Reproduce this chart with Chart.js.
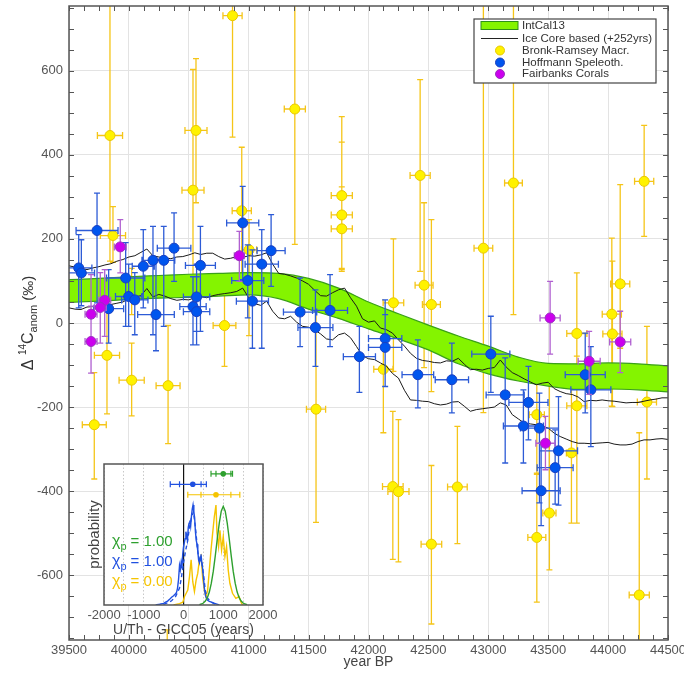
<!DOCTYPE html>
<html>
<head>
<meta charset="utf-8">
<script src="https://cdn.jsdelivr.net/npm/chart.js@4.4.1/dist/chart.umd.min.js"></script>
<style>
  html, body { margin: 0; padding: 0; background: #fff; }
  #wrap { position: relative; width: 684px; height: 675px; }
  #mainChart { position: absolute; left: 0; top: 0; }
  #insetChart { position: absolute; left: 75px; top: 455px; }
</style>
</head>
<body>
<div id="wrap">
  <canvas id="mainChart" width="684" height="675"></canvas>
  <canvas id="insetChart" width="210" height="190"></canvas>
</div>
<script>
const FONT = "'Liberation Sans', Arial, sans-serif";

// IntCal13 band edges, every 250 years
const bandYears = [39500, 39750, 40000, 40250, 40500, 40750, 41000, 41250, 41500, 41750, 42000,
                   42250, 42500, 42750, 43000, 43250, 43500, 43750, 44000, 44250, 44500];
const bandUpper = [103, 106, 110, 113, 116, 118, 120, 118, 106, 83, 50, 22, -5, -31, -55, -81, -96, -97, -95, -97, -102];
const bandLower = [49, 52, 56, 59, 61, 64, 67, 58, 33, 11, -14, -38, -64, -97, -121, -138, -150, -158, -157, -159, -164];

// ice core based curves (+252 yrs), one value every 50 years from 39500
const iceStart = 39500;
const iceStep = 50;
const iceUpper = [
  136, 133, 130, 127, 131, 134, 138, 141, 147, 151,
  157, 160, 168, 176, 160, 157, 155, 153, 157, 158,
  162, 167, 163, 166, 166, 158, 152, 154, 158, 156,
  160, 159, 162, 167, 140, 118, 116, 112, 107, 100,
  92, 78, 65, 64, 72, 79, 83, 60, 40, 10,
  2, 5, -12, -16, -24, -40, -55, -72, -84, -89,
  -91, -94, -95, -90, -91, -84, -98, -111, -110, -112,
  -108, -106, -88, -105, -118, -125, -133, -140, -147, -143,
  -141, -156, -163, -168, -170, -176, -187, -184, -185, -183,
  -185, -186, -188, -190, -189, -189, -186, -183, -181, -178,
  -178];
const iceLower = [
  36, 33, 32, 38, 39, 41, 42, 44, 47, 50,
  58, 62, 65, 82, 62, 68, 64, 58, 54, 56,
  55, 60, 63, 60, 65, 68, 70, 72, 75, 83,
  60, 46, 42, 52, 28, 12, 10, 16, 2, -8,
  -10, -16, -26, -38, -40, -28, -24, -35, -56, -78,
  -85, -87, -95, -103, -120, -131, -160, -183, -184, -186,
  -187, -192, -195, -193, -188, -187, -198, -210, -206, -204,
  -202, -200, -190, -195, -218, -228, -238, -240, -242, -245,
  -250, -262, -270, -276, -282, -286, -286, -287, -286, -285,
  -284, -288, -290, -290, -288, -282, -278, -278, -276, -275,
  -277];

// Bronk-Ramsey macrofossils
const brYear = [39842, 39867, 39817, 39711, 40023, 40327, 40798, 40865, 40560, 40535,
                40942, 41003, 41385, 41777, 41777, 41777, 41562, 42208, 42124, 42431,
                42464, 42525, 42203, 42250, 42525, 42742, 42959, 43210, 43405, 43405,
                43510, 43694, 43739, 43739, 44101, 44031, 44036, 44324, 44301, 44260,
                40023, 40320];
const brVal = [446, 208, -77, -242, -136, -149, -6, 731, 458, 316,
               267, 174, 509, 303, 257, 224, -205, 48, -110, 351,
               90, 44, -389, -401, -526, -390, 178, 333, -218, -510,
               -452, -309, -25, -197, 93, 21, -26, -188, 337, -647,
               75, -900];
const brXErr = [105, 105, 105, 100, 105, 100, 95, 80, 92, 92,
                80, 63, 88, 88, 88, 88, 80, 86, 80, 84,
                75, 75, 86, 88, 86, 82, 78, 74, 63, 75,
                55, 42, 84, 84, 80, 80, 80, 80, 80, 84,
                80, 80];
const brLow = [147, 144, -216, -371, -221, -287, -103, 442, 286, 40,
               120, -30, 187, 130, 127, 123, -474, -115, -261, 123,
               -106, -163, -562, -568, -716, -525, -213, 20, -357, -664,
               -587, -476, -151, -476, -60, -198, -199, -371, 206, -800,
               20, -1000];
const brHigh = [1100, 277, 32, -118, -48, -6, 91, 1100, 629, 603,
                418, 246, 1100, 491, 430, 324, 84, 200, 10, 579,
                286, 246, -210, -230, -339, -246, 1100, 1100, -107, -360,
                -103, -99, 119, -79, 329, 202, 147, -8, 470, -261,
                130, -730];

// Hoffmann speleothems
const hoYear = [39734, 39581, 39603, 39973, 40120, 40201, 40291, 40377, 40597, 39998,
                40049, 39831, 40226, 40565, 40535, 40565, 40950, 41187, 41109, 40992,
                41031, 41429, 41557, 41679, 41924, 42139, 42139, 42412, 42696, 43021,
                43141, 43335, 43293, 43427, 43809, 43856, 43586, 43558, 43441];
const hoVal = [220, 131, 119, 107, 135, 149, 149, 178, 137, 63,
               55, 34, 20, 62, 39, 27, 238, 172, 140, 101,
               52, 26, -11, 30, -80, -37, -58, -123, -135, -74,
               -171, -189, -245, -250, -123, -159, -304, -344, -399];
const hoXErr = [175, 110, 110, 160, 92, 92, 92, 140, 125, 110,
                110, 125, 153, 110, 110, 110, 134, 117, 139, 134,
                134, 139, 146, 146, 134, 139, 139, 132, 139, 159,
                159, 163, 167, 159, 167, 167, 159, 150, 159];
const hoLow = [48, 36, 41, -8, 36, -28, -8, 99, -20, -8,
               -28, -48, -66, -20, -52, -52, 103, 87, -60, 12,
               -60, -56, -103, -56, -165, -151, -151, -202, -214, -165,
               -333, -278, -333, -428, -214, -294, -433, -431, -482];
const hoHigh = [309, 210, 198, 191, 222, 230, 230, 262, 230, 140,
                120, 127, 151, 140, 110, 110, 325, 258, 222, 186,
                174, 107, 79, 115, -8, 55, 20, -40, -48, 16,
                -83, -103, -159, -167, -24, -56, -175, -254, -286];

// Fairbanks corals
const faYear = [39928, 39798, 39761, 39684, 39684, 40922, 43516, 43842, 44101, 43477];
const faVal = [181, 54, 37, 21, -44, 160, 12, -91, -45, -286];
const faXErr = [50, 50, 50, 50, 50, 42, 84, 92, 88, 80];
const faLow = [119, -32, -48, -119, -119, 99, -74, -170, -118, -349];
const faHigh = [246, 127, 120, 115, 40, 218, 99, -20, 28, -222];

// inset: probability curves (U/Th - GICC05, years)
const greenX = [400, 450, 500, 550, 600, 650, 700, 750, 800, 850, 900, 950, 1000,
                1050, 1100, 1150, 1200, 1250, 1300, 1350, 1400, 1450, 1500, 1550, 1600];
const greenY = [0.003, 0.007, 0.014, 0.028, 0.052, 0.092, 0.155, 0.24, 0.35, 0.47, 0.58, 0.665, 0.70,
                0.665, 0.58, 0.47, 0.35, 0.24, 0.155, 0.092, 0.052, 0.028, 0.014, 0.007, 0.003];
const blueX = [-700, -600, -500, -450, -400, -350, -300, -250, -200, -175,
               -150, -125, -100, -80, -60, -40, -20, 0, 20, 40,
               60, 80, 100, 120, 140, 160, 180, 200, 220, 240,
               260, 280, 300, 320, 340, 360, 380, 400, 420, 440,
               460, 480, 500, 525, 550, 575, 600, 650, 700, 800, 900];
const blueY = [0, 0.005, 0.012, 0.02, 0.028, 0.04, 0.055, 0.065, 0.08, 0.09,
               0.12, 0.18, 0.28, 0.25, 0.30, 0.26, 0.36, 0.41, 0.44, 0.47,
               0.52, 0.49, 0.46, 0.55, 0.58, 0.60, 0.56, 0.63, 0.68, 0.71,
               0.66, 0.62, 0.52, 0.46, 0.43, 0.38, 0.32, 0.30, 0.34, 0.36,
               0.30, 0.26, 0.20, 0.12, 0.07, 0.05, 0.035, 0.025, 0.02, 0.01, 0];
const dashX = [-500, -400, -300, -200, -100, -50, 0, 50, 100, 150, 200, 250, 300, 350, 400, 450, 500, 550, 600, 700, 800];
const dashY = [0.005, 0.015, 0.03, 0.06, 0.12, 0.2, 0.3, 0.38, 0.45, 0.55, 0.62, 0.66, 0.55, 0.4, 0.3, 0.33, 0.22, 0.1, 0.05, 0.02, 0.005];
const yelX = [-250, -100, -17, 25, 67, 108, 150, 192, 233, 275, 317, 358, 400, 442, 483, 525, 567, 608, 650,
              692, 733, 775, 817, 842, 883, 917, 958, 1000, 1042, 1083, 1125, 1167, 1233, 1317, 1400, 1442, 1483];
const yelY = [0, 0.01, 0.02, 0.06, 0.083, 0.106, 0.2, 0.32, 0.165, 0.095, 0.177, 0.224, 0.32, 0.347, 0.19, 0.106, 0.06, 0.106, 0.248,
              0.39, 0.508, 0.626, 0.709, 0.51, 0.414, 0.53, 0.39, 0.485, 0.343, 0.414, 0.248, 0.154, 0.083, 0.047, 0.06, 0.024, 0];

// inset: fitted offsets (green, blue, yellow)
const fitCenter = [1000, 233, 817];
const fitProb = [0.93, 0.856, 0.782];
const fitLo2 = [692, -333, 108];
const fitHi2 = [1233, 575, 1417];
const fitLo1 = [817, -100, 440];
const fitHi1 = [1192, 442, 1192];
const fitColors = ['#2ea02e', '#2050e0', '#f5c400'];
const chiValues = ['1.00', '1.00', '0.00'];

const legendLabels = ['IntCal13', 'Ice Core based (+252yrs)', 'Bronk-Ramsey Macr.', 'Hoffmann Speleoth.', 'Fairbanks Corals'];

const pts = (xs, ys, xe, lo, hi) => xs.map((v, i) => ({ x: v, y: ys[i], xe: xe[i], lo: lo[i], hi: hi[i] }));
const line = (xs, ys) => xs.map((v, i) => ({ x: v, y: ys[i] }));

// draws x/y error bars under each point dataset
const errorBars = {
  id: 'errorBars',
  beforeDatasetDraw(chart, args) {
    const ds = chart.data.datasets[args.index];
    if (!ds.errorColor) return;
    const { ctx, chartArea: a, scales: { x, y } } = chart;
    ctx.save();
    ctx.beginPath();
    ctx.rect(a.left, a.top, a.right - a.left, a.bottom - a.top);
    ctx.clip();
    ctx.strokeStyle = ds.errorColor;
    ctx.lineWidth = 1.3;
    ctx.beginPath();
    ds.data.forEach(p => {
      const px = x.getPixelForValue(p.x), py = y.getPixelForValue(p.y);
      const yl = y.getPixelForValue(p.lo), yh = y.getPixelForValue(p.hi);
      const xl = x.getPixelForValue(p.x - p.xe), xh = x.getPixelForValue(p.x + p.xe);
      ctx.moveTo(px, yl); ctx.lineTo(px, yh);
      ctx.moveTo(px - 3, yl); ctx.lineTo(px + 3, yl);
      ctx.moveTo(px - 3, yh); ctx.lineTo(px + 3, yh);
      ctx.moveTo(xl, py); ctx.lineTo(xh, py);
      ctx.moveTo(xl, py - 3.5); ctx.lineTo(xl, py + 3.5);
      ctx.moveTo(xh, py - 3.5); ctx.lineTo(xh, py + 3.5);
    });
    ctx.stroke();
    ctx.restore();
  }
};

// frame with inward ticks on all four sides
const frameTicks = {
  id: 'frameTicks',
  afterDraw(chart) {
    const { ctx, chartArea: a, scales: { x, y } } = chart;
    ctx.save();
    ctx.strokeStyle = '#555';
    ctx.lineWidth = 1;
    ctx.beginPath();
    x.ticks.forEach(t => {
      const px = Math.round(x.getPixelForValue(t.value)) + 0.5;
      ctx.moveTo(px, a.bottom); ctx.lineTo(px, a.bottom - 5);
      ctx.moveTo(px, a.top); ctx.lineTo(px, a.top + 5);
    });
    y.ticks.forEach(t => {
      const py = Math.round(y.getPixelForValue(t.value)) + 0.5;
      ctx.moveTo(a.left, py); ctx.lineTo(a.left + 5, py);
      ctx.moveTo(a.right, py); ctx.lineTo(a.right - 5, py);
    });
    ctx.stroke();
    ctx.lineWidth = 1.5;
    ctx.strokeRect(a.left, a.top, a.right - a.left, a.bottom - a.top);
    ctx.restore();
  }
};

// rotated y title with super/subscripts
const yTitle = {
  id: 'yTitle',
  afterDraw(chart) {
    const { ctx, chartArea: a } = chart;
    const parts = [
      { t: '\u0394 ', size: 16, dy: 0 },
      { t: '14', size: 10, dy: -7 },
      { t: 'C', size: 16, dy: 0 },
      { t: 'anom', size: 11, dy: 4 },
      { t: ' (\u2030)', size: 15, dy: 0 }
    ];
    ctx.save();
    ctx.translate(33, (a.top + a.bottom) / 2);
    ctx.rotate(-Math.PI / 2);
    ctx.fillStyle = '#333';
    ctx.textBaseline = 'alphabetic';
    let total = 0;
    parts.forEach(p => { ctx.font = p.size + 'px ' + FONT; p.w = ctx.measureText(p.t).width; total += p.w; });
    let u = -total / 2;
    parts.forEach(p => { ctx.font = p.size + 'px ' + FONT; ctx.fillText(p.t, u, p.dy); u += p.w; });
    ctx.restore();
  }
};

// boxed legend in the upper right corner of the plot
const boxLegend = {
  id: 'boxLegend',
  afterDraw(chart) {
    const { ctx, chartArea: a } = chart;
    const bx = a.right - 194, by = a.top + 13, bw = 182, bh = 64;
    ctx.save();
    ctx.fillStyle = '#fff';
    ctx.fillRect(bx, by, bw, bh);
    ctx.strokeStyle = '#444';
    ctx.lineWidth = 1.2;
    ctx.strokeRect(bx, by, bw, bh);
    const rows = [by + 6.5, by + 19.5, by + 31.5, by + 43.5, by + 55];
    // IntCal13 swatch
    ctx.fillStyle = '#84f400';
    ctx.fillRect(bx + 7, rows[0] - 4, 37, 8);
    ctx.strokeStyle = '#2f8f1a';
    ctx.lineWidth = 1;
    ctx.strokeRect(bx + 7, rows[0] - 4, 37, 8);
    // ice core line
    ctx.strokeStyle = '#222';
    ctx.beginPath();
    ctx.moveTo(bx + 7, rows[1]); ctx.lineTo(bx + 44, rows[1]);
    ctx.stroke();
    // point markers
    [['#fff200', '#e8c800'], ['#0055ee', '#1a3fc0'], ['#cc00ee', '#9a30c0']].forEach((c, i) => {
      ctx.beginPath();
      ctx.arc(bx + 26, rows[i + 2], 4.5, 0, Math.PI * 2);
      ctx.fillStyle = c[0];
      ctx.fill();
      ctx.strokeStyle = c[1];
      ctx.stroke();
    });
    ctx.fillStyle = '#333';
    ctx.font = '11.5px ' + FONT;
    ctx.textBaseline = 'middle';
    legendLabels.forEach((t, i) => ctx.fillText(t, bx + 48, rows[i]));
    ctx.restore();
  }
};

new Chart(document.getElementById('mainChart'), {
  type: 'scatter',
  data: {
    datasets: [
      {
        label: 'Fairbanks Corals', order: 1,
        data: pts(faYear, faVal, faXErr, faLow, faHigh),
        errorColor: '#b060d0',
        pointRadius: 5, pointBackgroundColor: '#cc00ee', pointBorderColor: '#9a30c0', pointBorderWidth: 1
      },
      {
        label: 'Hoffmann Speleoth.', order: 2,
        data: pts(hoYear, hoVal, hoXErr, hoLow, hoHigh),
        errorColor: '#2d5bd6',
        pointRadius: 5, pointBackgroundColor: '#0055ee', pointBorderColor: '#1a3fc0', pointBorderWidth: 1
      },
      {
        label: 'ice upper', order: 3, showLine: true,
        data: iceUpper.map((v, i) => ({ x: iceStart + i * iceStep, y: v })),
        borderColor: '#1a1a1a', borderWidth: 1, pointRadius: 0
      },
      {
        label: 'ice lower', order: 3, showLine: true,
        data: iceLower.map((v, i) => ({ x: iceStart + i * iceStep, y: v })),
        borderColor: '#1a1a1a', borderWidth: 1, pointRadius: 0
      },
      {
        label: 'IntCal13 upper', order: 4, showLine: true,
        data: line(bandYears, bandUpper),
        borderColor: '#3aa018', borderWidth: 1.2, pointRadius: 0, cubicInterpolationMode: 'monotone'
      },
      {
        label: 'IntCal13 lower', order: 4, showLine: true,
        data: line(bandYears, bandLower),
        borderColor: '#3aa018', borderWidth: 1.2, pointRadius: 0, cubicInterpolationMode: 'monotone',
        fill: '-1', backgroundColor: '#84f400'
      },
      {
        label: 'Bronk-Ramsey Macr.', order: 5,
        data: pts(brYear, brVal, brXErr, brLow, brHigh),
        errorColor: '#f5c518',
        pointRadius: 5, pointBackgroundColor: '#fff200', pointBorderColor: '#e8c800', pointBorderWidth: 1
      }
    ]
  },
  options: {
    responsive: false,
    animation: false,
    layout: { padding: { top: 6, right: 16, left: 0, bottom: 0 } },
    plugins: { legend: { display: false }, tooltip: { enabled: false } },
    scales: {
      x: {
        type: 'linear', min: 39500, max: 44500,
        afterBuildTicks: s => { const t = []; for (let v = 39500; v <= 44500; v += 125) t.push({ value: v }); s.ticks = t; },
        afterFit: s => { s.height = 35; s.paddingLeft = 0; s.paddingRight = 0; },
        ticks: {
          autoSkip: false, maxRotation: 0, padding: 3, color: '#555',
          font: { family: FONT, size: 13 },
          callback: v => (v % 500 === 0 ? String(v) : '')
        },
        grid: { drawTicks: false, color: c => (c.tick && c.tick.value % 500 === 0 ? '#e3e3e3' : 'rgba(0,0,0,0)') },
        border: { display: false },
        title: { display: true, text: 'year BP', color: '#444', font: { family: FONT, size: 14 }, padding: { top: 0, bottom: 4 } }
      },
      y: {
        type: 'linear', min: -754, max: 754,
        afterBuildTicks: s => { const t = []; for (let v = -750; v <= 750; v += 50) t.push({ value: v }); s.ticks = t; },
        afterFit: s => { s.width = 69; s.paddingTop = 0; s.paddingBottom = 0; },
        ticks: {
          autoSkip: false, padding: 6, color: '#555',
          font: { family: FONT, size: 13 },
          callback: v => (v % 200 === 0 ? String(v) : '')
        },
        grid: { drawTicks: false, color: c => (c.tick && c.tick.value % 200 === 0 ? '#e3e3e3' : 'rgba(0,0,0,0)') },
        border: { display: false }
      }
    }
  },
  plugins: [errorBars, frameTicks, yTitle, boxLegend]
});

// ---------- inset ----------
const insetBars = {
  id: 'insetBars',
  afterDatasetsDraw(chart) {
    const { ctx, scales: { x, y } } = chart;
    ctx.save();
    ctx.lineWidth = 1.2;
    fitCenter.forEach((c, i) => {
      const py = y.getPixelForValue(fitProb[i]);
      ctx.strokeStyle = fitColors[i];
      ctx.fillStyle = fitColors[i];
      ctx.beginPath();
      ctx.moveTo(x.getPixelForValue(fitLo2[i]), py); ctx.lineTo(x.getPixelForValue(fitHi2[i]), py);
      [fitLo2[i], fitHi2[i], fitLo1[i], fitHi1[i]].forEach(v => {
        const px = x.getPixelForValue(v);
        ctx.moveTo(px, py - 3); ctx.lineTo(px, py + 3);
      });
      ctx.stroke();
      ctx.beginPath();
      ctx.arc(x.getPixelForValue(c), py, 2.8, 0, Math.PI * 2);
      ctx.fill();
    });
    ctx.restore();
  }
};

const insetDecor = {
  id: 'insetDecor',
  beforeDraw(chart) {
    const { ctx, chartArea: a } = chart;
    ctx.save();
    ctx.fillStyle = '#fff';
    ctx.fillRect(a.left, a.top, a.right - a.left, a.bottom - a.top);
    ctx.restore();
  },
  afterDraw(chart) {
    const { ctx, chartArea: a } = chart;
    ctx.save();
    ctx.strokeStyle = '#555';
    ctx.lineWidth = 1.5;
    ctx.strokeRect(a.left, a.top, a.right - a.left, a.bottom - a.top);
    // chi_p labels
    chiValues.forEach((v, i) => {
      const bx = a.left + 8, by = a.top + 82 + i * 20;
      ctx.fillStyle = fitColors[i];
      ctx.font = '16px ' + FONT;
      ctx.fillText('\u03c7', bx, by);
      const w = ctx.measureText('\u03c7').width;
      ctx.font = '11px ' + FONT;
      ctx.fillText('p', bx + w, by + 4);
      ctx.font = '15px ' + FONT;
      ctx.fillText(' = ' + v, bx + w + 6, by);
    });
    ctx.restore();
  }
};

new Chart(document.getElementById('insetChart'), {
  type: 'scatter',
  data: {
    datasets: [
      { label: 'green', data: line(greenX, greenY), showLine: true, borderColor: '#2ea02e', borderWidth: 1.4, pointRadius: 0, order: 1 },
      { label: 'blue', data: line(blueX, blueY), showLine: true, borderColor: '#2050e0', borderWidth: 1.4, pointRadius: 0, order: 2 },
      { label: 'blue dashed', data: line(dashX, dashY), showLine: true, borderColor: '#2050e0', borderWidth: 1.4, borderDash: [4, 3], pointRadius: 0, order: 2 },
      { label: 'yellow', data: line(yelX, yelY), showLine: true, borderColor: '#f5c400', borderWidth: 1.4, pointRadius: 0, order: 3 }
    ]
  },
  options: {
    responsive: false,
    animation: false,
    layout: { padding: { top: 9, right: 22, left: 0, bottom: 0 } },
    plugins: { legend: { display: false }, tooltip: { enabled: false } },
    scales: {
      x: {
        type: 'linear', min: -2000, max: 2000,
        afterBuildTicks: s => { const t = []; for (let v = -2000; v <= 2000; v += 500) t.push({ value: v }); s.ticks = t; },
        afterFit: s => { s.height = 40; s.paddingLeft = 0; s.paddingRight = 0; },
        ticks: {
          autoSkip: false, maxRotation: 0, padding: 3, color: '#555',
          font: { family: FONT, size: 13 },
          callback: v => (v % 1000 === 0 ? String(v) : '')
        },
        grid: {
          drawTicks: false,
          color: c => (c.tick && c.tick.value === 0 ? '#111' : '#c8c8c8'),
          lineWidth: c => (c.tick && c.tick.value === 0 ? 1.2 : 1)
        },
        border: { display: false, dash: c => (c.tick && c.tick.value !== 0 ? [1.5, 2] : []) },
        title: { display: true, text: 'U/Th - GICC05 (years)', color: '#444', font: { family: FONT, size: 14 }, padding: { top: 0, bottom: 6 } }
      },
      y: {
        type: 'linear', min: 0, max: 1,
        afterFit: s => { s.width = 29; s.paddingTop = 0; s.paddingBottom = 0; },
        ticks: { display: false },
        grid: { display: false },
        border: { display: false },
        title: { display: true, text: 'probability', color: '#444', font: { family: FONT, size: 15 }, padding: { top: 11, bottom: 0 } }
      }
    }
  },
  plugins: [insetDecor, insetBars]
});
</script>
</body>
</html>
